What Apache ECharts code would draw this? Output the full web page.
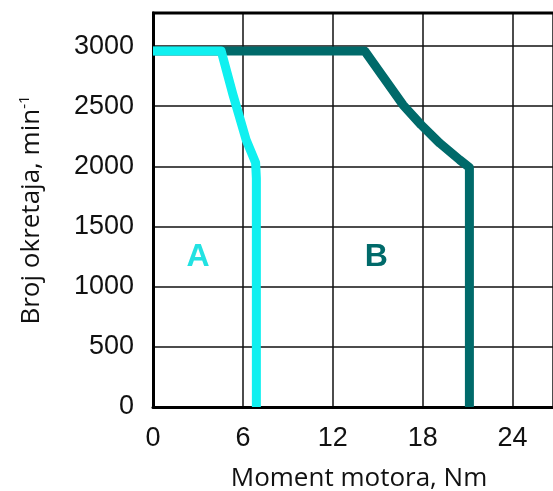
<!DOCTYPE html>
<html>
<head>
<meta charset="utf-8">
<script src="https://cdn.jsdelivr.net/npm/echarts@6/dist/echarts.min.js"></script>
<style>
  html, body { margin: 0; padding: 0; background: #fff; }
  #chart { width: 553px; height: 491px; }
</style>
</head>
<body>
<div id="chart"></div>
<script>
// krivulja A (moment, broj okretaja)
const torqueA = [0, 4.55, 5.33, 6.22, 6.85, 6.9, 6.9]
const speedA = [2960, 2960, 2600, 2220, 2030, 1900, 0]

// krivulja B
const torqueB = [0, 14.13, 15.35, 16.69, 17.9, 19.14, 20.47, 21.12, 21.12]
const speedB = [2960, 2960, 2746, 2511, 2345, 2193, 2054, 1990, 0]

const xTicks = [0, 6, 12, 18, 24]
const yTicks = [0, 500, 1000, 1500, 2000, 2500, 3000]

const toPairs = (xs, ys) => xs.map((x, i) => [x, ys[i]])

const chart = echarts.init(document.getElementById('chart'))

const option = {
  animation: false,
  grid: {
    left: 153,
    top: 13,
    right: 0,
    bottom: 84,
    show: false,
    containLabel: false,
    outerBoundsMode: 'none'
  },
  xAxis: {
    type: 'value',
    min: 0,
    max: 26.7,
    interval: 6,
    name: 'Moment motora, Nm',
    nameLocation: 'middle',
    nameGap: 59,
    nameTextStyle: {
      fontFamily: 'Open Sans',
      fontSize: 26,
      color: '#111',
      padding: [0, 0, 0, 12]
    },
    axisLine: { show: true, lineStyle: { color: '#000', width: 3 } },
    axisTick: { show: false },
    axisLabel: {
      fontFamily: 'Liberation Sans',
      fontSize: 27,
      color: '#111',
      margin: 18,
      showMaxLabel: false,
      formatter: v => (xTicks.includes(v) ? String(v) : '')
    },
    splitLine: { show: true, lineStyle: { color: '#111', width: 1.5 } }
  },
  yAxis: {
    type: 'value',
    min: 0,
    max: 3275,
    interval: 500,
    name: 'Broj okretaja, min{sup|-1}',
    nameLocation: 'middle',
    nameGap: 106,
    nameTextStyle: {
      fontFamily: 'Open Sans',
      fontSize: 26,
      color: '#111',
      rich: {
        sup: {
          fontFamily: 'Open Sans',
          fontSize: 15,
          color: '#111',
          verticalAlign: 'top',
          padding: [0, 0, 15, 0]
        }
      }
    },
    axisLine: { show: true, lineStyle: { color: '#000', width: 3 } },
    axisTick: { show: false },
    axisLabel: {
      fontFamily: 'Liberation Sans',
      fontSize: 27,
      color: '#111',
      margin: 19,
      showMaxLabel: false,
      formatter: v => (yTicks.includes(v) ? String(v) : '')
    },
    splitLine: { show: true, lineStyle: { color: '#111', width: 1.5 } }
  },
  graphic: [
    {
      // gornji rub
      type: 'line',
      shape: { x1: 152, y1: 13, x2: 553, y2: 13 },
      style: { stroke: '#000', lineWidth: 3 },
      z: 10
    }
  ],
  series: [
    {
      name: 'B',
      type: 'line',
      data: toPairs(torqueB, speedB),
      symbol: 'none',
      lineStyle: { color: '#006a6a', width: 9, join: 'round', cap: 'butt' },
      z: 3,
      markPoint: {
        symbol: 'rect',
        symbolSize: 1,
        itemStyle: { color: 'transparent' },
        label: {
          show: true,
          formatter: 'B',
          fontFamily: 'Liberation Sans',
          fontWeight: 'bold',
          fontSize: 32,
          color: '#006a6a'
        },
        data: [{ coord: [14.9, 1245] }]
      }
    },
    {
      name: 'A',
      type: 'line',
      data: toPairs(torqueA, speedA),
      symbol: 'none',
      lineStyle: { color: '#10f0f0', width: 9, join: 'round', cap: 'butt' },
      z: 4,
      markPoint: {
        symbol: 'rect',
        symbolSize: 1,
        itemStyle: { color: 'transparent' },
        label: {
          show: true,
          formatter: 'A',
          fontFamily: 'Liberation Sans',
          fontWeight: 'bold',
          fontSize: 32,
          color: '#22e2e2'
        },
        data: [{ coord: [3.0, 1245] }]
      }
    }
  ]
}

chart.setOption(option)
</script>
</body>
</html>
